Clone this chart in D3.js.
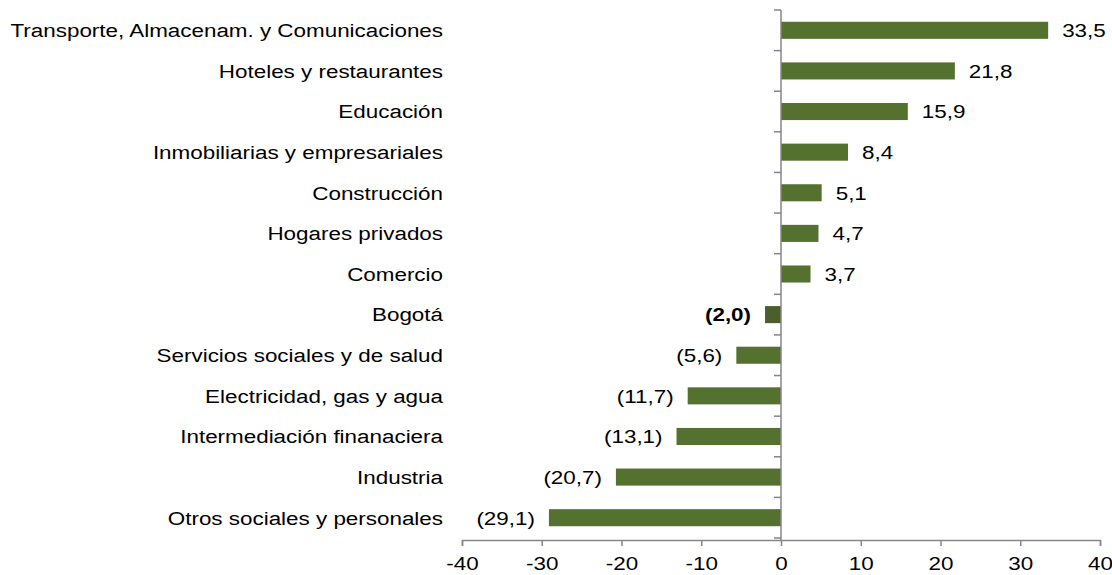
<!DOCTYPE html>
<html>
<head>
<meta charset="utf-8">
<script src="https://cdn.jsdelivr.net/npm/d3@7"></script>
<style>
  body { margin: 0; background: #fff; }
  svg { font-family: "Liberation Sans", Arial, sans-serif; }
</style>
</head>
<body>
<div id="chart"></div>
<script>
// sectores y variación (%)
var sectores = [
  'Transporte, Almacenam. y Comunicaciones',
  'Hoteles y restaurantes',
  'Educación',
  'Inmobiliarias y empresariales',
  'Construcción',
  'Hogares privados',
  'Comercio',
  'Bogotá',
  'Servicios sociales y de salud',
  'Electricidad, gas y agua',
  'Intermediación finanaciera',
  'Industria',
  'Otros sociales y personales'
]
var valores = [33.5, 21.8, 15.9, 8.4, 5.1, 4.7, 3.7, -2.0, -5.6, -11.7, -13.1, -20.7, -29.1]
var ticksX = [-40, -30, -20, -10, 0, 10, 20, 30, 40]
var destacado = 'Bogotá'

var width = 1112, height = 575
var fs = 19, sx = 1.18   // el texto original está algo ensanchado
var svg = d3.select('#chart').append('svg').attr('width', width).attr('height', height)

var x = d3.scaleLinear().domain([-40, 40]).range([462, 1100])
var y = d3.scaleBand().domain(sectores).range([10, 538]).paddingInner(0.58).paddingOuter(0.29)

function fmt(v) {
  var s = Math.abs(v).toFixed(1).replace('.', ',')
  return v < 0 ? '(' + s + ')' : s
}

// barras
svg.selectAll('rect.bar').data(valores).enter().append('rect')
  .attr('class', 'bar')
  .attr('x', function (d) { return Math.min(x(0), x(d)) })
  .attr('width', function (d) { return Math.abs(x(d) - x(0)) })
  .attr('y', function (d, i) { return y(sectores[i]) })
  .attr('height', y.bandwidth())
  .attr('fill', function (d, i) { return sectores[i] == destacado ? '#4c5e2a' : '#557130' })

// etiquetas de valores
svg.selectAll('text.val').data(valores).enter().append('text')
  .attr('class', 'val')
  .attr('transform', function (d, i) {
    var px = d < 0 ? x(d) - 14 : x(d) + 14
    return 'translate(' + px + ',' + (y(sectores[i]) + y.bandwidth() / 2) + ') scale(' + sx + ',1)'
  })
  .attr('dy', '0.36em')
  .attr('text-anchor', function (d) { return d < 0 ? 'end' : 'start' })
  .attr('font-size', fs)
  .attr('font-weight', function (d, i) { return sectores[i] == destacado ? 'bold' : 'normal' })
  .attr('fill', '#000')
  .text(fmt)

// eje vertical (categorías)
var yEdges = sectores.map(function (s) { return y(s) - y.step() * y.paddingInner() / 2 })
yEdges.push(538)
svg.append('line').attr('x1', x(0)).attr('x2', x(0)).attr('y1', 10).attr('y2', 540)
  .attr('stroke', '#868686').attr('stroke-width', 1.5)
svg.selectAll('line.ytick').data(yEdges).enter().append('line')
  .attr('class', 'ytick')
  .attr('x1', x(0) - 7).attr('x2', x(0))
  .attr('y1', function (d) { return d }).attr('y2', function (d) { return d })
  .attr('stroke', '#868686').attr('stroke-width', 1.5)

svg.selectAll('text.cat').data(sectores).enter().append('text')
  .attr('class', 'cat')
  .attr('transform', function (d) {
    return 'translate(443,' + (y(d) + y.bandwidth() / 2) + ') scale(' + sx + ',1)'
  })
  .attr('dy', '0.36em')
  .attr('text-anchor', 'end')
  .attr('font-size', fs)
  .attr('fill', '#000')
  .text(function (d) { return d })

// eje horizontal
var gx = svg.append('g').attr('transform', 'translate(0,540)')
  .call(d3.axisBottom(x).tickValues(ticksX).tickSize(6).tickSizeOuter(6).tickFormat(d3.format('d')))
gx.selectAll('path, line').attr('stroke', '#868686').attr('stroke-width', 1.5)
gx.selectAll('.tick text').remove()
gx.selectAll('.tick').append('text')
  .attr('transform', 'translate(0,16) scale(' + sx + ',1)')
  .attr('dy', '0.71em')
  .attr('text-anchor', 'middle')
  .attr('font-size', fs)
  .attr('font-family', '"Liberation Sans", Arial, sans-serif')
  .attr('fill', '#000')
  .text(function (d) { return d < 0 ? '-' + Math.abs(d) : d })
</script>
</body>
</html>
